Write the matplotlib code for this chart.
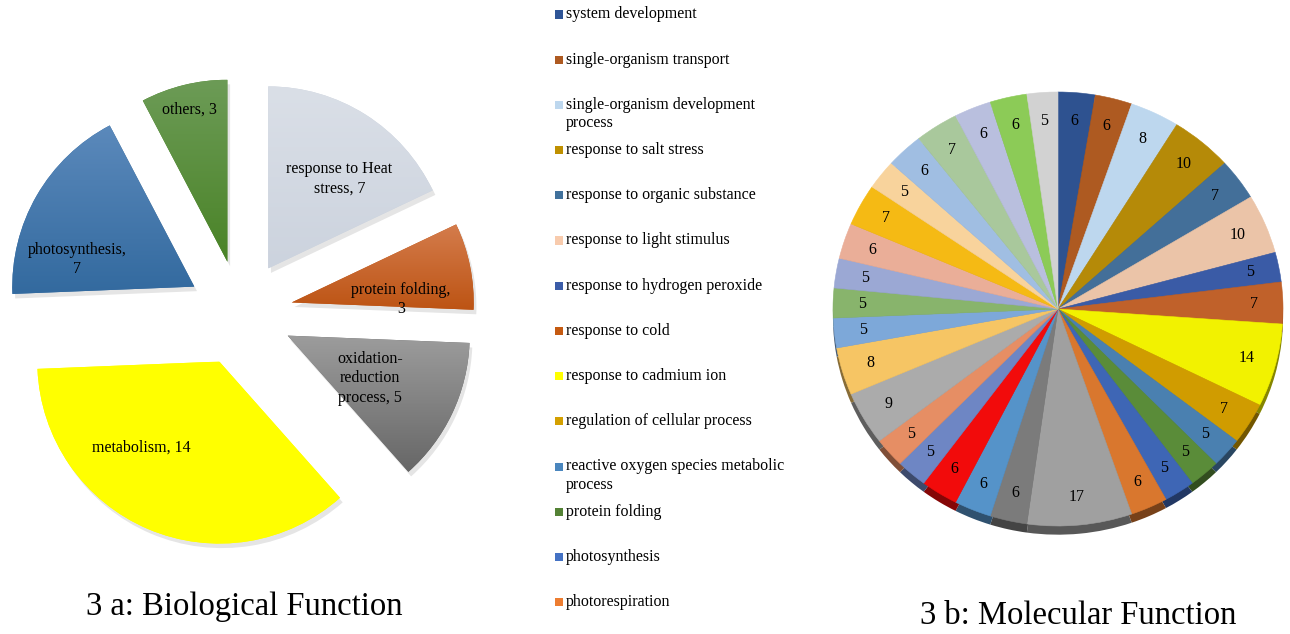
import numpy as np
import matplotlib
matplotlib.use("Agg")
import matplotlib.pyplot as plt
from matplotlib.patches import Rectangle
from matplotlib.colors import to_rgb, LinearSegmentedColormap

plt.rcParams['font.family'] = ['Liberation Serif', 'DejaVu Serif']

# --- 3a: biological function ---
bio_labels = ['response to Heat\nstress', 'protein folding,\n', 'oxidation-\nreduction\nprocess',
              'metabolism', 'photosynthesis,\n', 'others']
bio_values = [7, 3, 5, 14, 7, 3]
bio_grad = [('#DADFE7', '#CCD3DE'), ('#D47C4C', '#BD5414'), ('#9C9C9C', '#676767'),
            ('#FFFF00', '#FFFF00'), ('#5B89BB', '#336A9F'), ('#6C9B56', '#4A8327')]
# label placement: (angle offset from wedge bisector in degrees, radius fraction)
bio_lab_pos = [(-6, 0.63), (-10, 0.60), (-2, 0.51), (-19, 0.64), (17, 0.66), (0, 0.86)]

# --- 3b: molecular function ---
mol_values = [6, 6, 8, 10, 7, 10, 5, 7, 14, 7, 5, 5, 5, 6, 17, 6, 6, 6, 5, 5, 9,
              8, 5, 5, 5, 6, 7, 5, 6, 7, 6, 6, 5]
mol_colors = ['#2E5290', '#AE5A21', '#BDD7EE', '#B58A08', '#436F99', '#EBC4A8', '#3A5BA6',
              '#C0612A', '#F2F200', '#D09C00', '#4A80B0', '#5A8C39', '#3E66B5', '#D9772E',
              '#A0A0A0', '#7B7B7B', '#5593C9', '#F20B0B', '#6E86C4', '#E68E64', '#ABABAB',
              '#F6C564', '#7DA8D9', '#88B46C', '#9BA8D4', '#EAAE98', '#F5BA14', '#F8D39C',
              '#A0BEE2', '#A9C89C', '#B9BFDE', '#8CCB57', '#D2D2D2']

legend_labels = ['system development', 'single-organism transport',
                 'single-organism development\nprocess', 'response to salt stress',
                 'response to organic substance', 'response to light stimulus',
                 'response to hydrogen peroxide', 'response to cold',
                 'response to cadmium ion', 'regulation of cellular process',
                 'reactive oxygen species metabolic\nprocess', 'protein folding',
                 'photosynthesis', 'photorespiration']
legend_colors = ['#2F5597', '#AE5A21', '#BDD7EE', '#BF9000', '#41719C', '#F8CBAD', '#3B5CA8',
                 '#C55A11', '#FFFF00', '#D4A000', '#4A86BE', '#548235', '#4472C4', '#ED7D31']

W, H = 1290, 634
fig = plt.figure(figsize=(W / 100, H / 100), dpi=100)


def px_axes(x0, x1, cx, cy, rx, ry):
    """axes spanning pixel columns x0..x1 (full height), unit radius = rx/ry pixels"""
    ax = fig.add_axes([x0 / W, 0, (x1 - x0) / W, 1])
    lims = ((x0 - cx) / rx, (x1 - cx) / rx), (-(H - cy) / ry, cy / ry)
    return ax, lims


def darker(c, f=0.55):
    return tuple(v * f for v in to_rgb(c))


# left exploded pie
ax1, lims1 = px_axes(0, 500, 240, 313, 182, 182)
shadow, _ = ax1.pie(bio_values, startangle=90, counterclock=False, explode=[0.29] * 6,
                    colors=['#000000'] * 6, center=(0.015, -0.025),
                    wedgeprops=dict(linewidth=0, alpha=0.10))
wedges, _ = ax1.pie(bio_values, startangle=90, counterclock=False, explode=[0.29] * 6,
                    colors=[g[1] for g in bio_grad], wedgeprops=dict(linewidth=0))
for w, (ctop, cbot) in zip(wedges, bio_grad):
    bb = w.get_path().get_extents()
    cmap = LinearSegmentedColormap.from_list('g', [cbot, ctop])
    im = ax1.imshow(np.linspace(0, 1, 64).reshape(-1, 1), cmap=cmap, origin='lower',
                    extent=(bb.x0, bb.x1, bb.y0, bb.y1), aspect='auto', zorder=2)
    im.set_clip_path(w)

for w, lab, v, (da, rf) in zip(wedges, bio_labels, bio_values, bio_lab_pos):
    ang = np.deg2rad((w.theta1 + w.theta2) / 2 + da)
    x = w.center[0] + rf * w.r * np.cos(ang)
    y = w.center[1] + rf * w.r * np.sin(ang)
    txt = f'{lab}{v}' if lab.endswith('\n') else f'{lab}, {v}'
    ax1.text(x, y, txt, ha='center', va='center', fontsize=11.5, zorder=5,
             linespacing=1.3)
ax1.set_aspect('auto')
ax1.set_xlim(lims1[0])
ax1.set_ylim(lims1[1])
ax1.axis('off')

# right pie with a dark rim underneath for a 3-D look
ax2, lims2 = px_axes(800, 1290, 1058, 309, 225, 217)
ax2.pie(mol_values, startangle=90, counterclock=False, center=(0, -0.04),
        colors=[darker(c) for c in mol_colors], wedgeprops=dict(linewidth=0))
mwedges, _ = ax2.pie(mol_values, startangle=90, counterclock=False, colors=mol_colors,
                     wedgeprops=dict(linewidth=0.4))
for w, c in zip(mwedges, mol_colors):
    w.set_edgecolor(c)
for w, v in zip(mwedges, mol_values):
    ang = np.deg2rad((w.theta1 + w.theta2) / 2)
    ax2.text(0.87 * np.cos(ang), 0.87 * np.sin(ang), str(v), ha='center', va='center',
             fontsize=11.5)
ax2.set_aspect('auto')
ax2.set_xlim(lims2[0])
ax2.set_ylim(lims2[1])
ax2.axis('off')

# legend for the molecular function pie
for i, (lab, col) in enumerate(zip(legend_labels, legend_colors)):
    yc = 14.5 + 45.2 * i
    fig.patches.append(Rectangle((555 / W, 1 - (yc + 4) / H), 8 / W, 8 / H,
                                 transform=fig.transFigure, facecolor=col, edgecolor='none'))
    fig.text(566 / W, 1 - (yc - 8) / H, lab, ha='left', va='top', fontsize=11.5,
             linespacing=1.2)

fig.text(244 / W, 1 - 607 / H, '3 a: Biological Function', ha='center', va='center',
         fontsize=23.5)
fig.text(1078 / W, 1 - 616 / H, '3 b: Molecular Function', ha='center', va='center',
         fontsize=23.5)

fig.savefig('out.png', dpi=100, facecolor='white')
